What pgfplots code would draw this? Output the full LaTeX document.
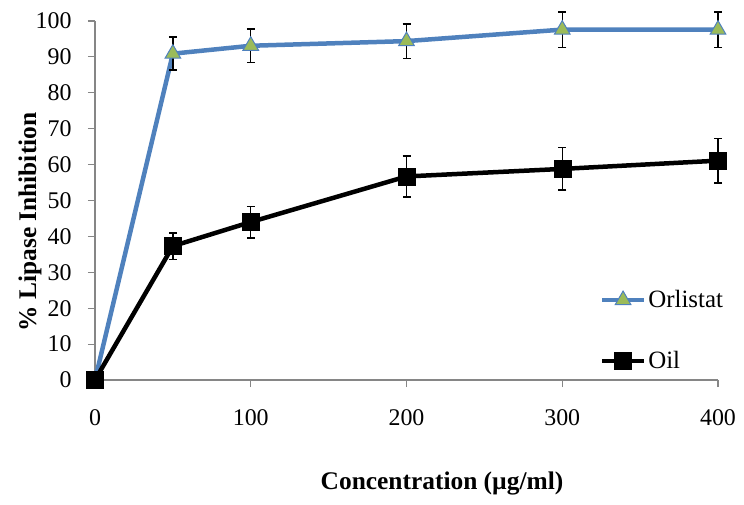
\documentclass[border=0pt]{standalone}
\usepackage{pgfplots}
\pgfplotsset{compat=1.18}
\usepackage{fontspec}
\setmainfont{Liberation Serif}
\definecolor{oblue}{RGB}{79,129,189}
\definecolor{ogreen}{RGB}{155,187,89}
\definecolor{axgray}{RGB}{134,134,134}
\begin{document}
\begin{tikzpicture}
\useasboundingbox (-95bp,-125bp) rectangle (649bp,380bp);
\begin{axis}[
  scale only axis,
  width=623bp, height=359bp,
  xmin=0, xmax=400, ymin=0, ymax=100,
  xtick={0,100,200,300,400},
  ytick={0,10,...,100},
  axis x line=bottom, axis y line=left,
  axis line style={-, draw=axgray, line width=1.2bp},
  tick style={draw=axgray, line width=1.2bp},
  tick align=outside,
  major tick length=7bp,
  clip=false,
  font=\fontsize{24}{28}\selectfont,
  /pgf/number format/assume math mode=true,
  yticklabel style={xshift=-13bp},
  xticklabel style={yshift=-19bp},
  xlabel={\textbf{Concentration (µg/ml)}},
  ylabel={\textbf{\% Lipase Inhibition}},
  every axis x label/.style={at={(axis description cs:0.557,0)}, yshift=-103bp, anchor=center, font=\fontsize{25.5}{29}\selectfont},
  every axis y label/.style={at={(axis description cs:0,0.44)}, xshift=-65bp, rotate=90, anchor=center, font=\fontsize{25.5}{29}\selectfont},
  legend style={at={(axis description cs:0.81,0.255)}, anchor=north west, draw=none, fill=none,
     row sep=38bp, inner sep=0pt, font=\fontsize{25}{29}\selectfont},
  legend cell align=left,
  legend image code/.code={\draw[mark repeat=2,mark phase=2,#1] plot coordinates {(0bp,0bp) (21bp,0bp) (42bp,0bp)};},
]
\addplot[color=oblue, line width=4.5bp, mark=triangle*, mark size=9bp,
  mark options={fill=ogreen, draw=oblue, line width=1bp},
  error bars/.cd, y dir=both, y explicit,
  error bar style={black, line width=1.4bp},
  error mark options={rotate=90, black, mark size=4bp, line width=1.4bp}]
 coordinates {
 (0,0) +- (0,0)
 (50,90.9) +- (0,4.6)
 (100,93.1) +- (0,4.7)
 (200,94.4) +- (0,4.8)
 (300,97.6) +- (0,4.9)
 (400,97.6) +- (0,4.9)
 };
\addlegendentry{Orlistat}
\addplot[color=black, line width=4.5bp, mark=square*, mark size=8.5bp,
  mark options={fill=black, draw=black, line width=0.5bp},
  error bars/.cd, y dir=both, y explicit,
  error bar style={black, line width=1.4bp},
  error mark options={rotate=90, black, mark size=4bp, line width=1.4bp}]
 coordinates {
 (0,0) +- (0,0)
 (50,37.3) +- (0,3.7)
 (100,44.0) +- (0,4.4)
 (200,56.7) +- (0,5.7)
 (300,58.8) +- (0,5.9)
 (400,61.1) +- (0,6.2)
 };
\addlegendentry{Oil}
\end{axis}
\end{tikzpicture}
\end{document}
